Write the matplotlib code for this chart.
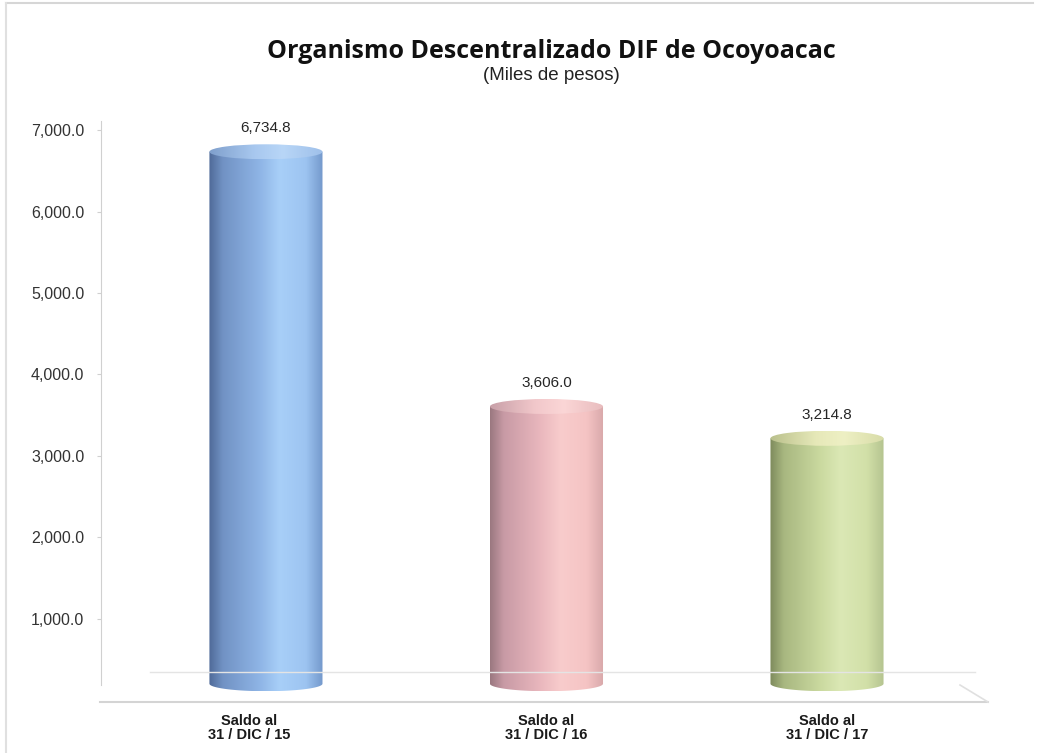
import numpy as np
import matplotlib
matplotlib.use("Agg")
import matplotlib.pyplot as plt
from matplotlib.path import Path
from matplotlib.patches import PathPatch, Ellipse
from matplotlib.colors import LinearSegmentedColormap
from matplotlib.lines import Line2D
import matplotlib.transforms as mtransforms

# ---- data ----
categories = ["Saldo al\n31 / DIC / 15", "Saldo al\n31 / DIC / 16", "Saldo al\n31 / DIC / 17"]
values = [6734.8, 3606.0, 3214.8]
yticks = [1000, 2000, 3000, 4000, 5000, 6000, 7000]
title = "Organismo Descentralizado DIF de Ocoyoacac"
subtitle = "(Miles de pesos)"

# ---- styles ----
body_stops = [
    ["#4f6a98", "#7192c4", "#8fb5e6", "#a8cff8", "#9dc4f1", "#7499cc"],
    ["#9a7880", "#c89aa5", "#eab8be", "#f8cccc", "#f5c4c4", "#d8a8aa"],
    ["#7d8a5c", "#a8b780", "#cbdaa0", "#dbe8b5", "#d2e0a8", "#b5c490"],
]
cap_stops = [
    ["#7f9fcc", "#a8c8ef", "#b8d6f7", "#9fc0ea"],
    ["#c8a0a8", "#f2c8cb", "#fbd6d6", "#e8bcbe"],
    ["#b9c08c", "#e6e8b8", "#eef0c4", "#d8dca8"],
]
stop_pos = [0.0, 0.12, 0.45, 0.62, 0.85, 1.0]
cap_pos = [0.0, 0.4, 0.65, 1.0]

W, H = 1048, 753
DPI = 100
fig = plt.figure(figsize=(W / DPI, H / DPI), dpi=DPI)
fig.patch.set_facecolor("white")

def fx(px):
    return px / W

def fy(py):
    return 1 - py / H

YTOP = 7113
FLOOR = 200
ax_left, ax_right, ax_top, ax_bot = 101, 990, 121, 700
ax = fig.add_axes([fx(ax_left), fy(ax_bot), fx(ax_right) - fx(ax_left), fy(ax_top) - fy(ax_bot)])
ax.set_facecolor("none")
x = np.arange(len(values))
ax.set_xlim(-0.588, 2.581)
ax.set_ylim(0, YTOP)

bar_w = 0.403
px_per_unit = (ax_bot - ax_top) / YTOP
eh = 7.5 / px_per_unit

for i, v in enumerate(values):
    x0, x1 = x[i] - bar_w / 2, x[i] + bar_w / 2
    th = np.linspace(np.pi, 2 * np.pi, 80)
    bx = x[i] + bar_w / 2 * np.cos(th)
    by = FLOOR + eh * np.sin(th)
    verts = [(x0, v)] + list(zip(bx, by)) + [(x1, v), (x0, v)]
    codes = [Path.MOVETO] + [Path.LINETO] * (len(verts) - 2) + [Path.CLOSEPOLY]
    body = PathPatch(Path(verts, codes), facecolor="none", edgecolor="none")
    ax.add_patch(body)
    cmap = LinearSegmentedColormap.from_list("b%d" % i, list(zip(stop_pos, body_stops[i])))
    grad = np.linspace(0, 1, 256)[None, :]
    im = ax.imshow(grad, extent=[x0, x1, FLOOR - eh, v], aspect="auto", cmap=cmap,
                   origin="lower", interpolation="bilinear", zorder=2)
    im.set_clip_path(body)
    cap = Ellipse((x[i], v), bar_w, 2 * eh, facecolor="none", edgecolor="none", zorder=3)
    ax.add_patch(cap)
    ccmap = LinearSegmentedColormap.from_list("c%d" % i, list(zip(cap_pos, cap_stops[i])))
    im2 = ax.imshow(grad, extent=[x0, x1, v - eh, v + eh], aspect="auto", cmap=ccmap,
                    origin="lower", interpolation="bilinear", zorder=3)
    im2.set_clip_path(cap)
    ax.annotate(f"{v:,.1f}", (x[i], v), xytext=(0, 12), textcoords="offset points",
                ha="center", va="bottom", fontsize=11, family="Liberation Sans", color="#262626")

ax.set_xlim(-0.588, 2.581)
ax.set_ylim(0, YTOP)

for s in ["top", "right", "bottom"]:
    ax.spines[s].set_visible(False)
ax.spines["left"].set_color("#d0d0d0")
ax.spines["left"].set_bounds(FLOOR - 20, YTOP)
ax.set_yticks(yticks)
ax.set_yticklabels([f"{t:,.1f}" for t in yticks], family="Liberation Sans", fontsize=11.5, color="#333333")
ax.tick_params(axis="y", length=3, color="#d0d0d0", pad=9)
ax.set_xticks(x)
ax.set_xticklabels(categories, family="Liberation Sans", fontsize=10.5, fontweight="bold",
                   color="#1a1a1a", linespacing=1.05)
ax.tick_params(axis="x", length=0, pad=10)
offs = [-17, 0, 0]
for lab, o in zip(ax.get_xticklabels(), offs):
    lab.set_transform(lab.get_transform() + mtransforms.ScaledTranslation(o / DPI, 0, fig.dpi_scale_trans))

def fline(xs, ys, **kw):
    fig.add_artist(Line2D([fx(a) for a in xs], [fy(b) for b in ys], **kw))

fline([150, 975], [672, 672], color="#e4e4e4", lw=1.0)
fline([100, 988], [702, 702], color="#d4d4d4", lw=1.5)
fline([960, 988], [685, 702], color="#e0e0e0", lw=1.2)
fline([6, 1033], [3, 3], color="#d6d6d6", lw=1.5)
fline([6, 6], [3, 753], color="#e0e0e0", lw=1.5)

fig.text(fx(551), fy(52), title, ha="center", va="center", fontsize=18,
         fontweight="bold", family="Open Sans", color="#111111")
fig.text(fx(551), fy(75), subtitle, ha="center", va="center", fontsize=13.5,
         family="Liberation Sans", color="#222222")

fig.savefig("out.png", dpi=DPI)
